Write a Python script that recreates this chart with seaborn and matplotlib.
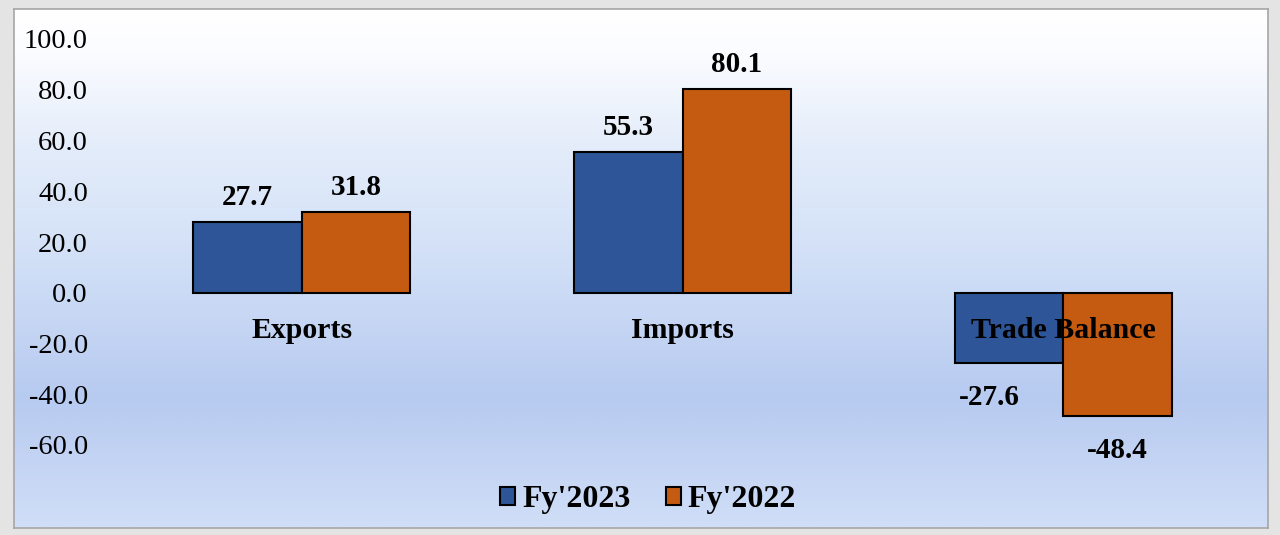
import numpy as np
import pandas as pd
import matplotlib
matplotlib.use("Agg")
import matplotlib.pyplot as plt
import seaborn as sns
from matplotlib.colors import LinearSegmentedColormap
from matplotlib.patches import Patch

categories = ["Exports", "Imports", "Trade Balance"]
series = ["Fy'2023", "Fy'2022"]
fy2023 = [27.7, 55.3, -27.6]
fy2022 = [31.8, 80.1, -48.4]
yticks = [-60, -40, -20, 0, 20, 40, 60, 80, 100]

df = pd.DataFrame({
    "Category": categories * 2,
    "Year": [series[0]] * len(categories) + [series[1]] * len(categories),
    "Value": fy2023 + fy2022,
})

BLUE = "#2E5597"
ORANGE = "#C55A11"

sns.set_theme(style="white")
plt.rcParams["font.family"] = ["Liberation Serif", "DejaVu Serif"]
plt.rcParams["text.color"] = "black"
plt.rcParams["ytick.color"] = "black"

W, H = 1280, 535
fig = plt.figure(figsize=(W / 100, H / 100), dpi=100, facecolor="#E4E4E4")

# gradient panel background
bg = fig.add_axes([14 / W, 1 - 528 / H, (1268 - 14) / W, (528 - 9) / H], zorder=0)
stops = [(0.0, "#FFFFFF"), (0.08, "#FBFCFF"), (0.27, "#E3ECFA"),
         (0.48, "#D2E0F7"), (0.75, "#B7CAF0"), (1.0, "#D0DEF7")]
cmap = LinearSegmentedColormap.from_list("bgc", stops)
grad = np.linspace(0, 1, 400).reshape(-1, 1)
bg.imshow(grad, aspect="auto", cmap=cmap, extent=[0, 1, 0, 1], origin="upper")
bg.set_xticks([]); bg.set_yticks([])
for s in bg.spines.values():
    s.set_edgecolor("#A6A6A6")
    s.set_linewidth(1.2)

ax = fig.add_axes([111.5 / W, 1 - 445 / H, (1253.5 - 111.5) / W, (445 - 39) / H], zorder=1)
ax.patch.set_alpha(0)
sns.barplot(data=df, x="Category", y="Value", hue="Year", order=categories,
            hue_order=series, palette=[BLUE, ORANGE], saturation=1,
            width=0.57, edgecolor="black", linewidth=1.5, ax=ax, legend=False)

ax.set_ylim(-60, 100)
ax.set_xlim(-0.5, len(categories) - 0.5)
ax.set_yticks(yticks)
ax.set_yticklabels([f"{v:.1f}" for v in yticks])
ax.tick_params(axis="y", length=0, pad=17, labelsize=20.5, labelcolor="black")
ax.set_xticks([])
ax.set_xlabel("")
ax.set_ylabel("")
for s in ax.spines.values():
    s.set_visible(False)

# category labels near zero line
for i, c in enumerate(categories):
    ax.annotate(c, (i, 0), xytext=(0, -27), textcoords="offset points",
                ha="center", va="center", fontsize=21.5, fontweight="bold",
                color="black", zorder=6)

# value labels
for k, (cont, vals) in enumerate(zip(ax.containers, [fy2023, fy2022])):
    for bar, v in zip(cont, vals):
        x = bar.get_x() + bar.get_width() / 2
        if v >= 0:
            off = (0, 18)
        else:
            off = (-14 if k == 0 else 0, -25)
        ax.annotate(f"{v:.1f}", (x, v), xytext=off, textcoords="offset points",
                    ha="center", va="center", fontsize=21, fontweight="bold",
                    color="black", zorder=6)

handles = [Patch(facecolor=c, edgecolor="black", linewidth=1.5, label=s)
           for c, s in zip([BLUE, ORANGE], series)]
fig.legend(handles=handles, loc="center", bbox_to_anchor=(648 / W, 1 - 500 / H),
           ncol=2, frameon=False, prop={"weight": "bold", "size": 23,
                                        "family": ["Liberation Serif"]},
           labelcolor="black",
           handlelength=0.48, handleheight=0.48, handletextpad=0.22,
           columnspacing=1.1)

fig.savefig("out.png", dpi=100, facecolor=fig.get_facecolor())
